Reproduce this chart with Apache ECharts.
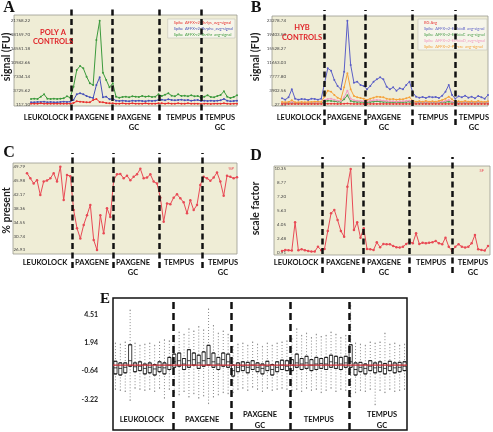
<!DOCTYPE html>
<html><head><meta charset="utf-8">
<script src="https://cdn.jsdelivr.net/npm/echarts/dist/echarts.min.js"></script>
<style>html,body{margin:0;padding:0;background:#fff}#c{width:493px;height:432px}</style>
</head><body><div id="c"></div>
<script>
// ---------- categories / labels ----------
const groups = ['LEUKOLOCK', 'PAXGENE', 'PAXGENE\nGC', 'TEMPUS', 'TEMPUS\nGC'];
const aNames = ['Spike_AFFX-r2-Bs-lys_avg-signal', 'Spike_AFFX-r2-Bs-phe_avg-signal', 'Spike_AFFX-r2-Bs-thr_avg-signal'];
const bNames = ['BG Avg', 'Spike_AFFX-r2-Ec-bioB_avg-signal', 'Spike_AFFX-r2-Ec-bioC_avg-signal', 'Spike_AFFX-r2-Ec-bioD_avg-signal', 'Spike_AFFX-r2-P1-cre_avg-signal'];
const cName = '%P';
const dName = 'SF';

// ---------- tick labels ----------
const aTicks = [117.10, 3725.62, 7334.14, 10942.66, 14551.18, 18159.70, 21768.22];
const bTicks = [27.33, 3902.56, 7777.80, 11653.03, 15528.27, 19403.50, 23278.74];
const cTicks = [26.93, 30.74, 34.55, 38.36, 42.17, 45.98, 49.79];
const dTicks = [0.91, 2.48, 4.05, 5.63, 7.20, 8.77, 10.35];
const eTicks = [-3.22, -0.64, 1.94, 4.51];

// ---------- series values (64 arrays per line panel) ----------
const aRed = [290,290,290,376,290,290,290,290,290,290,290,290,290,
  462,894,807,721,635,635,1239,1498,721,635,462,376,
  376,290,290,376,290,290,376,290,290,290,376,290,290,290,376,
  376,290,376,290,290,376,290,290,376,290,290,290,
  203,290,290,203,290,290,290,376,290,203,290,290];
const aBlue = [635,635,721,721,807,635,721,635,635,721,807,721,807,
  1239,2706,2965,2706,2275,1929,1757,5122,7107,1929,2102,1412,
  1584,1066,980,1066,980,894,1066,980,1066,980,894,1066,980,1066,1239,
  1325,1153,1412,1239,1153,1239,1325,1153,1239,1066,1153,1239,
  980,1066,980,1066,980,1066,1153,1498,1066,894,980,1066];
const aGreen = [1498,1584,1498,2102,2706,1584,1498,1584,1498,1584,1670,2188,1843,
  4691,9006,10041,9437,7280,5554,5122,16773,21750,8315,6417,4518,
  5554,2102,1843,2016,2102,1929,2188,2102,2016,2275,2102,2188,2016,2102,2706,
  2275,2620,2965,2361,2188,2706,2275,2361,2188,2447,2188,2275,
  1843,2102,2447,2016,1929,2275,2533,3483,2102,1757,2016,2447];

const bRed = [120,125,118,130,122,120,119,121,124,120,118,122,125,
  160,175,170,150,140,145,190,230,150,140,135,130,128,
  130,135,140,138,142,136,130,128,126,130,128,125,132,135,
  122,120,124,121,123,120,122,124,121,126,130,140,125,
  118,121,119,122,120,118,121,123,119,120,122];
const bBlue = [1695,1324,1973,4196,1602,1324,1510,1417,1232,1602,1510,1324,1602,
  5864,10033,9384,6790,5122,4196,9106,23278,10959,6049,6327,5400,5122,
  4196,5122,6327,6975,7531,6975,4937,4196,4752,3825,4474,4196,5400,6327,
  3270,2158,1880,2065,1788,2158,1973,2065,1788,2436,3547,5400,2621,
  1602,2251,1973,2436,1880,2158,1695,2343,1973,1602,2621];
const bGreen = [398,398,398,491,398,398,398,398,398,398,398,398,398,
  768,1046,954,861,768,676,1417,2529,954,768,676,676,583,
  583,676,768,861,768,676,676,583,583,583,583,583,676,768,
  491,491,491,491,491,491,491,491,491,583,676,768,583,
  491,491,491,491,491,491,491,491,491,491,491];
const bPink = [491,491,491,676,491,491,491,491,491,491,491,491,491,
  1232,1510,1602,1324,1046,954,1973,3825,1602,1139,1046,954,861,
  861,1046,1139,1232,1139,1046,954,861,861,768,861,861,954,1046,
  676,583,676,583,676,583,676,583,676,768,954,1232,768,
  583,676,583,676,583,676,583,676,583,583,676];
const bOrange = [676,583,676,1139,583,583,676,583,676,676,768,768,676,
  2158,3825,3547,2621,1880,1417,4752,8643,4196,2343,1973,1788,1602,
  1232,1602,1880,2158,2065,1973,1602,1417,1510,1324,1417,1417,1695,1973,
  1046,768,861,768,954,768,861,768,954,1232,1602,2158,1417,
  676,861,768,954,768,861,676,954,768,676,861];

const cPresent = [48.0,46.6,45.2,46.1,42.0,45.7,46.0,46.6,48.0,45.7,49.79,40.65,47.5,47.2,
  37.9,32.9,30.1,33.8,36.5,39.3,29.7,26.93,36.5,31.5,38.4,36.0,
  46.1,47.7,47.8,46.6,47.3,46.1,47.0,47.7,49.2,46.6,46.8,47.7,45.7,45.2,
  41.3,34.7,39.7,39.5,41.3,42.2,41.1,40.0,37.0,40.6,37.9,39.3,44.8,
  47.0,46.6,45.9,46.8,48.2,45.7,41.8,47.3,47.0,46.6,46.9];

const dScale = [1.06,1.17,1.14,1.10,4.31,1.14,1.25,1.14,1.06,0.99,0.99,1.55,1.14,
  1.29,3.33,5.33,5.71,4.57,3.33,2.68,8.35,10.35,3.44,4.31,2.57,3.63,
  1.29,1.25,1.17,2.04,1.48,1.85,1.82,1.82,1.63,1.48,1.44,1.55,1.85,2.12,
  1.93,3.06,1.85,2.0,1.93,2.0,2.04,2.19,1.93,1.82,2.57,1.55,1.06,
  1.55,1.82,1.55,1.44,1.55,1.93,2.87,1.25,1.17,1.10,1.63];

// ---------- panel E box statistics [min, Q1, median, Q3, max] ----------
const boxLeukolock = [[-2.3,-0.9,-0.35,0.25,1.9],[-2.4,-1.0,-0.4,0.1,1.8],[-2.5,-0.8,-0.3,0.1,2.0],[-3.3,-0.2,0.3,1.75,4.9],
  [-2.2,-0.7,-0.25,0.1,1.9],[-2.3,-0.6,-0.2,0.2,1.7],[-2.4,-0.9,-0.4,0.0,1.8],[-2.3,-0.8,-0.3,0.1,1.9],
  [-2.5,-1.0,-0.45,-0.05,1.7],[-2.2,-0.7,-0.3,0.2,2.0],[-3.1,-0.9,-0.35,0.1,2.2],[-2.3,-0.5,-0.1,0.6,2.1]];
const boxPaxgene = [[-2.6,-0.3,0.2,0.9,2.6],[-2.8,-0.2,0.3,1.0,2.9],[-2.5,-0.5,0.0,0.5,2.7],[-3.0,-0.3,0.3,1.3,3.2],
  [-2.7,-0.1,0.4,1.0,3.0],[-3.1,-0.4,0.1,0.8,3.4],[-2.9,-0.2,0.3,1.1,3.1],[-3.6,-0.1,0.5,1.7,5.0],
  [-3.0,-0.3,0.2,1.0,3.5],[-2.8,-0.5,0.0,0.6,2.8],[-2.6,-0.2,0.4,1.0,3.0],[-2.7,-0.3,0.2,0.9,2.7]];
const boxPaxgeneGC = [[-2.6,-1.1,-0.6,-0.1,1.6],[-2.3,-0.7,-0.3,0.1,1.8],[-2.2,-0.6,-0.2,0.2,1.9],[-2.4,-0.8,-0.3,0.15,1.7],
  [-2.1,-0.5,-0.1,0.3,2.0],[-2.3,-0.7,-0.3,0.1,1.8],[-2.5,-0.9,-0.4,0.0,1.6],[-2.2,-0.6,-0.2,0.25,1.9],
  [-2.4,-1.0,-0.5,-0.05,1.7],[-2.3,-0.7,-0.3,0.2,1.9],[-2.2,-0.5,-0.1,0.35,2.0],[-2.3,-0.6,-0.2,0.3,2.1]];
const boxTempus = [[-2.4,-0.6,-0.1,0.4,2.3],[-2.3,-0.3,0.1,0.9,3.2],[-2.5,-0.5,0.0,0.5,2.6],[-2.2,-0.4,0.1,0.7,2.8],
  [-2.4,-0.6,-0.1,0.4,2.4],[-2.3,-0.5,0.0,0.6,2.7],[-2.6,-0.4,0.05,0.5,2.5],[-2.4,-0.5,0.0,0.6,2.6],
  [-2.2,-0.3,0.2,0.8,2.9],[-2.5,-0.4,0.1,0.7,2.7],[-2.3,-0.5,0.0,0.6,2.4],[-2.4,-0.3,0.1,0.7,2.6]];
const boxTempusGC = [[-3.0,-0.3,0.2,1.75,5.3],[-2.6,-1.0,-0.5,0.1,1.9],[-2.4,-0.7,-0.3,0.15,1.8],[-2.5,-0.9,-0.4,0.0,1.7],
  [-2.3,-0.6,-0.2,0.3,2.0],[-3.7,-0.8,-0.35,0.1,1.9],[-2.4,-0.7,-0.3,0.2,2.0],[-2.6,-0.9,-0.4,0.05,2.8],
  [-2.3,-0.6,-0.2,0.25,1.8],[-2.5,-0.8,-0.35,0.1,1.9],[-2.4,-0.7,-0.3,0.15,1.7],[-2.3,-0.6,-0.2,0.2,1.8]];
const eMedianLine = [-0.1];

// ---------- annotation positions (in each panel's sample-index units) ----------
const aDividers = [12.23, 24.77, 39.14, 51.99], aLabelPos = [4.6, 18.65, 31.5, 45.9, 57.8];
const bDividers = [12.84, 25.38, 39.76, 52.9],  bLabelPos = [5.2, 19.0, 31.2, 46.2, 58.7];
const cDividers = [13.5, 25.8, 39.6, 52.5],     cLabelPos = [5.4, 19.5, 31.8, 45.6, 58.8];
const dDividers = [12.3, 24.9, 38.9, 52.1],     dLabelPos = [4.3, 18.65, 31.2, 45.6, 58.4];
const eDividers = [12.2, 24.1, 36.1, 48.2],     eLabelPos = [5.9, 18.2, 30.0, 42.0, 54.9];

// ---------- build ----------
const FONT = 'Lato, "Open Sans", sans-serif';
const BG = '#efedd6';
const N = cPresent.length;
const allBoxes = [].concat(boxLeukolock, boxPaxgene, boxPaxgeneGC, boxTempus, boxTempusGC);
const boxCats = allBoxes.map((_, i) => 'array ' + (i + 1));

function nameAt(pos, v) {
  let k = -1, best = 1e9;
  pos.forEach((p, i) => { const d = Math.abs(p - v); if (d < best) { best = d; k = i; } });
  return best < 0.01 ? groups[k] : '';
}
function gridRect(l, t, w, h, extra) {
  return Object.assign({ left: l, top: t, width: w, height: h, containLabel: false, outerBoundsMode: 'none' }, extra || {});
}
function dataX(gi, pos, margin) {
  return { type: 'value', gridIndex: gi, min: 0, max: N - 1, splitLine: { show: false },
    axisLine: { show: false, onZero: false }, axisTick: { show: false },
    axisLabel: { customValues: pos, formatter: v => nameAt(pos, v), margin: margin, color: '#111',
      fontSize: 7.5, fontWeight: 'bold', fontFamily: FONT, lineHeight: 10, verticalAlign: 'top', align: 'center' } };
}
function dataY(gi, ticks, margin) {
  return { type: 'value', gridIndex: gi, min: ticks[0], max: ticks[ticks.length - 1], splitLine: { show: false },
    axisLine: { show: false }, axisTick: { show: false },
    axisLabel: { customValues: ticks, formatter: v => v.toFixed(2), margin: margin, fontSize: 4.5, color: '#444', fontFamily: FONT } };
}
function ovX(gi, max) { return { type: 'value', gridIndex: gi, min: 0, max: max, show: false }; }
function ovY(gi) { return { type: 'value', gridIndex: gi, min: 0, max: 1, show: false }; }
function lineS(name, arr, color, xi, size) {
  return { type: 'line', name: name, xAxisIndex: xi, yAxisIndex: xi, data: arr.map((v, i) => [i, v]),
    symbol: 'circle', symbolSize: size, showSymbol: true, silent: true,
    lineStyle: { color: color, width: 1 }, itemStyle: { color: color } };
}
function dividerS(xi, yi, divs, dash) {
  return { type: 'line', xAxisIndex: xi, yAxisIndex: yi, data: [], silent: true,
    markLine: { silent: true, symbol: ['none', 'none'], label: { show: false }, animation: false,
      lineStyle: { color: '#111', width: 2.5, type: dash, opacity: 1 }, emphasis: { disabled: true },
      data: divs.map(v => ({ xAxis: v })) } };
}

const aColors = ['#e8312f', '#4650b8', '#3c9a3c'];
const bColors = ['#e83a3a', '#5b5fc7', '#4fa04f', '#f29ac0', '#f5a23a'];
const cdColor = '#e84a55';

const grids = [
  gridRect(31, 20.7, 206, 83.6),      // 0 A
  gridRect(282, 20.7, 206, 83.6),     // 1 B
  gridRect(27, 166.7, 210, 83.3),     // 2 C
  gridRect(282, 169, 206, 83.3),      // 3 D
  gridRect(113, 298, 294, 132, { show: true, borderColor: '#111', borderWidth: 1.5, backgroundColor: 'rgba(0,0,0,0)' }), // 4 E
  gridRect(31, 8, 206, 112),          // 5 A overlay
  gridRect(282, 10, 206, 115),        // 6 B overlay
  gridRect(27, 153, 210, 115),        // 7 C overlay
  gridRect(282, 157, 206, 116),       // 8 D overlay
  gridRect(113, 298, 294, 132)        // 9 E overlay
];

const xAxes = [
  dataX(0, aLabelPos, 8), dataX(1, bLabelPos, 8), dataX(2, cLabelPos, 8), dataX(3, dLabelPos, 5),
  { type: 'category', gridIndex: 4, data: boxCats, show: false },
  ovX(5, N - 1), ovX(6, N - 1), ovX(7, N - 1), ovX(8, N - 1),
  { type: 'value', gridIndex: 9, min: 0, max: allBoxes.length, splitLine: { show: false },
    axisLine: { show: false, onZero: false }, axisTick: { show: false },
    axisLabel: { inside: true, customValues: eLabelPos, formatter: v => nameAt(eLabelPos, v), margin: 10,
      verticalAlign: 'middle', align: 'center', color: '#111', fontSize: 7.5, fontWeight: 'bold', fontFamily: FONT, lineHeight: 11 } },
  { type: 'category', gridIndex: 4, data: boxCats, show: false }   // 10: E boxes
];
const yAxes = [
  dataY(0, aTicks, 1), dataY(1, bTicks, -4), dataY(2, cTicks, 2), dataY(3, dTicks, -4),
  { type: 'value', gridIndex: 4, min: -6, max: 6, splitLine: { show: false }, axisLine: { show: false }, axisTick: { show: false },
    axisLabel: { customValues: eTicks, formatter: v => v.toFixed(2), margin: 15, fontSize: 7, fontWeight: 'bold', color: '#222', fontFamily: FONT } },
  ovY(5), ovY(6), ovY(7), ovY(8), ovY(9),
  { type: 'value', gridIndex: 9, min: -6, max: 6, show: false }   // 10: E overlay value axis for median line
];

const series = [
  lineS(aNames[2], aGreen, aColors[2], 0, 2),
  lineS(aNames[1], aBlue, aColors[1], 0, 2),
  lineS(aNames[0], aRed, aColors[0], 0, 2),
  lineS(bNames[2], bGreen, bColors[2], 1, 2),
  lineS(bNames[3], bPink, bColors[3], 1, 2),
  lineS(bNames[4], bOrange, bColors[4], 1, 2),
  lineS(bNames[1], bBlue, bColors[1], 1, 2),
  lineS(bNames[0], bRed, bColors[0], 1, 2),
  lineS(cName, cPresent, cdColor, 2, 2.5),
  lineS(dName, dScale, cdColor, 3, 2.5),
  // E whiskers (dotted)
  { type: 'boxplot', xAxisIndex: 4, yAxisIndex: 4, data: allBoxes, boxWidth: [1, 1], silent: true,
    itemStyle: { color: 'rgba(0,0,0,0)', borderColor: '#8c8c8c', borderWidth: 1, borderType: [1, 2] } },
  // E boxes
  { type: 'boxplot', xAxisIndex: 10, yAxisIndex: 4, data: allBoxes.map(b => [b[1], b[1], b[2], b[3], b[3]]),
    boxWidth: [3.2, 3.2], silent: true, itemStyle: { color: '#fff', borderColor: '#111', borderWidth: 0.8 } },
  // E overall median line across all arrays
  { type: 'line', xAxisIndex: 9, yAxisIndex: 10, silent: true, z: 10, symbol: 'none',
    data: [[0, eMedianLine[0]], [allBoxes.length, eMedianLine[0]]],
    lineStyle: { color: '#cc2f36', width: 1.2 } },
  dividerS(5, 5, aDividers, [6, 3.5]),
  dividerS(6, 6, bDividers, [6, 3.5]),
  dividerS(7, 7, cDividers, [6, 3.5]),
  dividerS(8, 8, dDividers, [6, 3.5]),
  dividerS(9, 9, eDividers, [7, 4])
];

function legendOf(names, colors, right, top, boxed) {
  return { data: names.map((n, i) => ({ name: n, textStyle: { color: colors[i] } })), orient: 'vertical',
    right: right, top: top, itemWidth: 0, itemHeight: 0, itemGap: 1, selectedMode: false,
    padding: boxed ? [1, 2, 1, 0] : 0, borderColor: boxed ? '#c4c3b8' : 'transparent', borderWidth: boxed ? 0.6 : 0,
    backgroundColor: boxed ? '#f6f5ea' : 'transparent',
    textStyle: { fontSize: 4, fontFamily: FONT, lineHeight: 5 } };
}

function txt(x, y, text, font, fill, rot, lh) {
  return { type: 'text', x: x, y: y, rotation: rot || 0, z: 20, silent: true,
    style: { text: text, font: font, fill: fill, align: 'center', verticalAlign: 'middle',
      textAlign: 'center', textVerticalAlign: 'middle', lineHeight: lh || undefined } };
}
const letterFont = 'bold 16px "Liberation Serif", "DejaVu Serif", serif';
const axFont = 'bold 10.5px Lato, "Open Sans", sans-serif';
const ctrlFont = 'bold 7.5px Lato, "Open Sans", sans-serif';

const graphic = [
  { type: 'rect', z: -10, silent: true, shape: { x: 14, y: 15, width: 223, height: 91 }, style: { fill: BG, stroke: '#9a9a90', lineWidth: 0.8 } },
  { type: 'rect', z: -10, silent: true, shape: { x: 272, y: 16, width: 216, height: 90 }, style: { fill: BG, stroke: '#9a9a90', lineWidth: 0.8 } },
  { type: 'rect', z: -10, silent: true, shape: { x: 13, y: 163, width: 224, height: 91 }, style: { fill: BG, stroke: '#9a9a90', lineWidth: 0.8 } },
  { type: 'rect', z: -10, silent: true, shape: { x: 274, y: 166, width: 216, height: 89 }, style: { fill: BG, stroke: '#9a9a90', lineWidth: 0.8 } },
  txt(9, 8, 'A', letterFont, '#111'),
  txt(256, 8, 'B', letterFont, '#111'),
  txt(9, 153, 'C', letterFont, '#111'),
  txt(256, 156, 'D', letterFont, '#111'),
  txt(105, 299, 'E', 'bold 15px "Liberation Serif", "DejaVu Serif", serif', '#111'),
  txt(6.5, 57, 'signal (FU)', axFont, '#222', Math.PI / 2),
  txt(255.5, 57, 'signal (FU)', axFont, '#222', Math.PI / 2),
  txt(6.5, 210.5, '% present', axFont, '#222', Math.PI / 2),
  txt(256, 208.5, 'scale factor', axFont, '#222', Math.PI / 2),
  txt(53, 37, 'POLY A\nCONTROLS', ctrlFont, '#e0262b', 0, 9),
  txt(302, 33, 'HYB\nCONTROLS', ctrlFont, '#e0262b', 0, 10)
];

const chart = echarts.init(document.getElementById('c'), null, { renderer: 'canvas', width: 493, height: 432 });
chart.setOption({
  animation: false,
  backgroundColor: '#fff',
  textStyle: { fontFamily: FONT },
  grid: grids,
  xAxis: xAxes,
  yAxis: yAxes,
  legend: [
    legendOf(aNames, aColors, 493 - 235, 19, true),
    legendOf(bNames, bColors, 493 - 487, 19, true),
    legendOf([cName], [cdColor], 493 - 234, 166, false),
    legendOf([dName], [cdColor], 493 - 484, 168, false)
  ],
  graphic: graphic,
  series: series
});
</script></body></html>
